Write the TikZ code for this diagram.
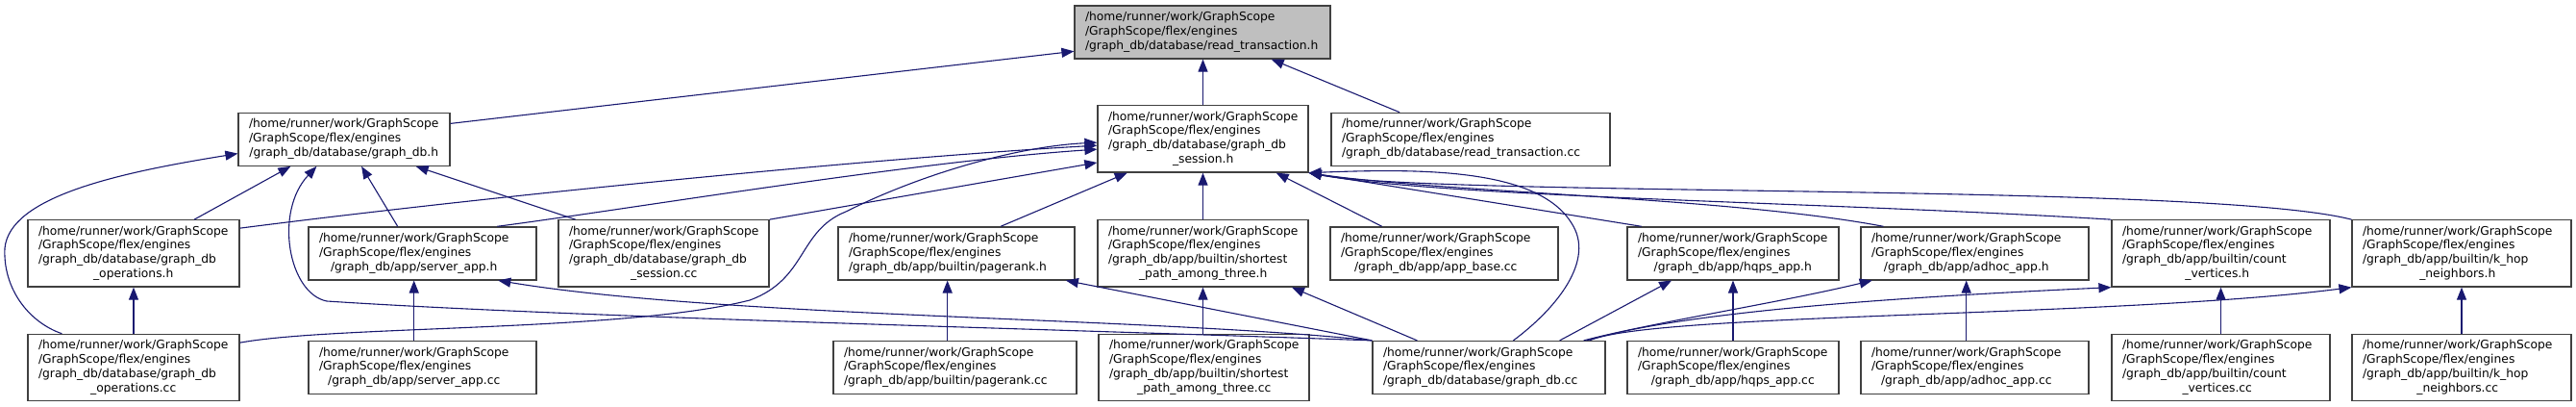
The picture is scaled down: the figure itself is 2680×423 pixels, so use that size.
\documentclass[tikz,border=0pt]{standalone}
\usepackage{fontspec}
\setmainfont{DejaVu Sans}
\usetikzlibrary{arrows.meta}
\definecolor{mblue}{HTML}{191970}
\definecolor{gdark}{HTML}{404040}
\definecolor{glight}{HTML}{BFBFBF}
\newcommand\lbl[3]{\makebox[\dimexpr#1pt-22pt\relax][l]{\begin{tabular}{@{}l@{}}#2\\\multicolumn{1}{@{}c@{}}{#3}\end{tabular}}}
\newcommand\hdr{/home/runner/work/GraphScope\\/GraphScope/flex/engines}
\tikzset{
  fbox/.style={draw=gdark, line width=1.2pt, fill=white, inner sep=0pt,
    font=\fontsize{12.3}{14.8}\selectfont},
  boxthree/.style={fbox, minimum height=55pt},
  boxfour/.style={fbox, minimum height=69.3pt},
  dep/.style={draw=mblue, line width=1.1pt, -{Triangle[length=13pt,width=10pt]}},
}
\begin{document}
\begin{tikzpicture}[x=1pt,y=-1pt]
\useasboundingbox (0,0) rectangle (2680,423);
% row 1
\node[boxthree, minimum width=266pt, fill=glight] (rth) at (1251,33.5) {\lbl{266}{\hdr}{/graph\_db/database/read\_transaction.h}};
% row 2
\node[boxthree, minimum width=220pt] (gdbh) at (358,144.8) {\lbl{220}{\hdr}{/graph\_db/database/graph\_db.h}};
\node[boxfour, minimum width=219pt] (gsh) at (1251.5,144.4) {\lbl{219}{\hdr\\/graph\_db/database/graph\_db}{\_session.h}};
\node[boxthree, minimum width=290pt] (rtcc) at (1530,144.8) {\lbl{290}{\hdr}{/graph\_db/database/read\_transaction.cc}};
% row 3
\node[boxfour, minimum width=220pt] (gopsh) at (139,263.4) {\lbl{220}{\hdr\\/graph\_db/database/graph\_db}{\_operations.h}};
\node[boxthree, minimum width=237pt] (saph) at (439.5,263.4) {\lbl{237}{\hdr}{/graph\_db/app/server\_app.h}};
\node[boxfour, minimum width=219pt] (gscc) at (690.5,263.4) {\lbl{219}{\hdr\\/graph\_db/database/graph\_db}{\_session.cc}};
\node[boxthree, minimum width=246pt] (prh) at (995,263.4) {\lbl{246}{\hdr}{/graph\_db/app/builtin/pagerank.h}};
\node[boxfour, minimum width=219pt] (spath) at (1251.5,263.4) {\lbl{219}{\hdr\\/graph\_db/app/builtin/shortest}{\_path\_among\_three.h}};
\node[boxthree, minimum width=237pt] (abcc) at (1502.5,263.4) {\lbl{237}{\hdr}{/graph\_db/app/app\_base.cc}};
\node[boxthree, minimum width=220pt] (hqh) at (1803,263.4) {\lbl{220}{\hdr}{/graph\_db/app/hqps\_app.h}};
\node[boxthree, minimum width=237pt] (adh) at (2054.5,263.4) {\lbl{237}{\hdr}{/graph\_db/app/adhoc\_app.h}};
\node[boxfour, minimum width=227pt] (cvh) at (2310.5,263.4) {\lbl{227}{\hdr\\/graph\_db/app/builtin/count}{\_vertices.h}};
\node[boxfour, minimum width=228pt] (khh) at (2561,263.4) {\lbl{228}{\hdr\\/graph\_db/app/builtin/k\_hop}{\_neighbors.h}};
% row 4
\node[boxfour, minimum width=220pt] (gopscc) at (139,382) {\lbl{220}{\hdr\\/graph\_db/database/graph\_db}{\_operations.cc}};
\node[boxthree, minimum width=237pt] (sapcc) at (439.5,382) {\lbl{237}{\hdr}{/graph\_db/app/server\_app.cc}};
\node[boxthree, minimum width=253pt] (prcc) at (993.5,382) {\lbl{253}{\hdr}{/graph\_db/app/builtin/pagerank.cc}};
\node[boxfour, minimum width=219pt] (spatcc) at (1252.5,382) {\lbl{219}{\hdr\\/graph\_db/app/builtin/shortest}{\_path\_among\_three.cc}};
\node[boxthree, minimum width=242pt] (gdbcc) at (1549,382) {\lbl{242}{\hdr}{/graph\_db/database/graph\_db.cc}};
\node[boxthree, minimum width=220pt] (hqcc) at (1803,382) {\lbl{220}{\hdr}{/graph\_db/app/hqps\_app.cc}};
\node[boxthree, minimum width=237pt] (adcc) at (2054.5,382) {\lbl{237}{\hdr}{/graph\_db/app/adhoc\_app.cc}};
\node[boxfour, minimum width=227pt] (cvcc) at (2310.5,382) {\lbl{227}{\hdr\\/graph\_db/app/builtin/count}{\_vertices.cc}};
\node[boxfour, minimum width=228pt] (khcc) at (2561,382) {\lbl{228}{\hdr\\/graph\_db/app/builtin/k\_hop}{\_neighbors.cc}};

% to read_transaction.h
\draw[dep] ([yshift=-11.7pt]gdbh.north east) -- ([yshift=8.3pt]rth.south west);
\draw[dep] (gsh.north) -- (gsh.north |- rth.south);
\draw[dep] ([xshift=71.7pt]rtcc.north west) -- ([xshift=205.3pt]rth.south west);
% to graph_db.h
\draw[dep] ([xshift=36pt]gopscc.north west) .. controls (30,335) and (3,300) .. (5,258) .. controls (10,205) and (120,180) .. ([yshift=13.3pt]gdbh.south west);
\draw[dep] ([xshift=173.7pt]gopsh.north west) -- ([xshift=55pt]gdbh.south west);
\draw[dep] (gdbcc.north west) .. controls (1100,342) and (600,330) .. (340,313) .. controls (300,305) and (285,220) .. ([xshift=82pt]gdbh.south west);
\draw[dep] ([xshift=93.3pt]saph.north west) -- ([xshift=128.7pt]gdbh.south west);
\draw[dep] ([xshift=18.3pt]gscc.north west) -- ([xshift=185.3pt]gdbh.south west);
% to graph_db_session.h, left side
\draw[dep] ([yshift=-9pt]gopsh.north east) .. controls (500,205) and (900,165) .. ([yshift=-42pt]gsh.north west);
\draw[dep] ([xshift=-41.3pt]saph.north east) .. controls (650,218) and (950,168) .. ([yshift=-46pt]gsh.north west);
\draw[dep] (gscc.north east) -- ([yshift=10.7pt]gsh.south west);
\draw[dep] ([yshift=-9.4pt]gopscc.north east) .. controls (350,338) and (650,345) .. (780,312) .. controls (840,290) and (830,240) .. (880,220) .. controls (960,180) and (1060,152) .. ([yshift=-39pt]gsh.north west);
% to graph_db_session.h, bottom
\draw[dep] ([xshift=169.7pt]prh.north west) -- ([xshift=31.3pt]gsh.south west);
\draw[dep] (spath.north) -- (gsh.south);
\draw[dep] ([xshift=54.3pt]abcc.north west) -- ([xshift=186.3pt]gsh.south west);
\draw[dep] ([xshift=15.3pt]hqh.north west) -- (gsh.south east);
\draw[dep] ([xshift=24pt]adh.north west) .. controls (1800,205) and (1500,200) .. (gsh.south east);
\draw[dep] (cvh.north west) .. controls (1900,210) and (1500,205) .. (gsh.south east);
\draw[dep] (khh.north west) .. controls (2300,190) and (1500,205) .. (gsh.south east);
\draw[dep] ([xshift=147pt]gdbcc.north west) .. controls (1620,320) and (1660,270) .. (1635,232) .. controls (1600,175) and (1480,175) .. (gsh.south east);
% from graph_db.cc to row 3 headers
\draw[dep] (gdbcc.north west) .. controls (1200,330) and (750,330) .. ([xshift=-40.3pt]saph.south east);
\draw[dep] (gdbcc.north west) -- ([xshift=-9.7pt]prh.south east);
\draw[dep] ([xshift=47pt]gdbcc.north west) -- ([xshift=-17.7pt]spath.south east);
\draw[dep] ([xshift=-48pt]gdbcc.north east) -- ([xshift=46.7pt]hqh.south west);
\draw[dep] ([xshift=-23pt]gdbcc.north east) .. controls (1720,335) and (1850,315) .. ([xshift=12.3pt]adh.south west);
\draw[dep] ([xshift=-20pt]gdbcc.north east) .. controls (1750,325) and (1950,310) .. (cvh.south west);
\draw[dep] ([xshift=-17pt]gdbcc.north east) .. controls (1720,325) and (2200,330) .. (khh.south west);
% vertical pairs
\draw[dep] (gopscc.north) -- (gopsh.south);
\draw[dep] ([xshift=-8.8pt]sapcc.north) -- ([xshift=-8.8pt]saph.south);
\draw[dep] ([xshift=-7.8pt]prcc.north) -- ([xshift=-9.3pt]prh.south);
\draw[dep] (spatcc.north -| spath.south) -- (spath.south);
\draw[dep] (hqcc.north) -- (hqh.south);
\draw[dep] ([xshift=-8.8pt]adcc.north) -- ([xshift=-8.8pt]adh.south);
\draw[dep] (cvcc.north) -- (cvh.south);
\draw[dep] (khcc.north) -- (khh.south);
\end{tikzpicture}
\end{document}
